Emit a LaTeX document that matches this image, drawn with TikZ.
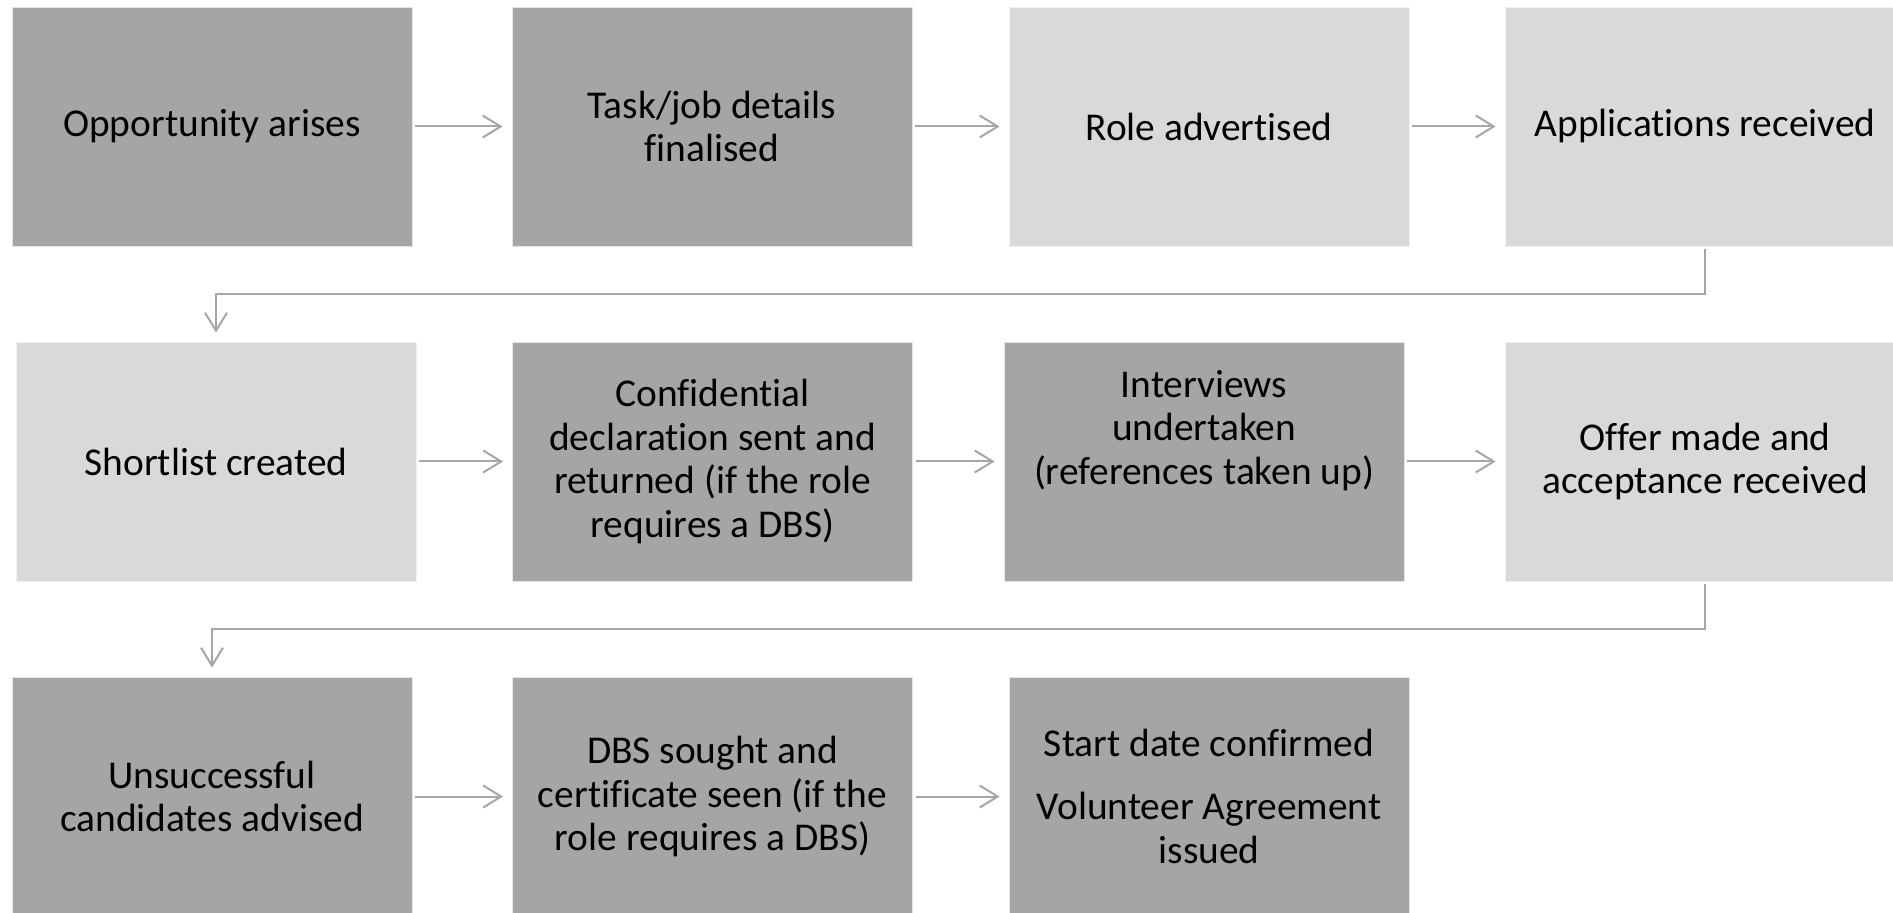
\documentclass[tikz,border=0pt]{standalone}
\usepackage{fontspec}
\setmainfont{Carlito}[Ligatures={NoCommon},RawFeature={-clig,-dlig,-calt}]
\usetikzlibrary{arrows.meta}
\newcommand{\zk}{\kern0pt{}}
\definecolor{darkbox}{HTML}{A5A5A5}
\definecolor{lightbox}{HTML}{D9D9D9}
\definecolor{conn}{HTML}{A6A6A6}
\tikzset{
  box/.style={rectangle, minimum width=200pt, minimum height=119.5pt, inner sep=0pt,
    draw=white!70!darkbox, line width=0.4pt, align=center, text=black,
    font=\fontsize{19.7}{21.9}\selectfont},
  darkb/.style={box, fill=darkbox},
  lightb/.style={box, fill=lightbox, draw=white!60!lightbox},
  txt/.style={align=center, inner sep=0pt, font=\fontsize{19.7}{21.9}\selectfont},
  conn/.style={draw=conn, line width=1pt, -{Straight Barb[length=9pt,width=11pt]},
    shorten <=1.5pt, shorten >=4.5pt},
}
\begin{document}
\begin{tikzpicture}[x=0.5pt,y=-0.5pt]
\useasboundingbox (0,0) rectangle (1893,913);
% row 1
\node[darkb] (b1) at (212,126.5) {Opportunity arises};
\node[darkb] (b2) at (712,126.5) {Task/job details\\f\zk inalised};
\node[lightb] (b3) at (1209,126.5) {Role advert\zk ised};
\node[lightb] (b4) at (1705,126.5) {Applicat\zk ions received};
% row 2
\node[lightb] (b5) at (216,461.5) {Shortlist created};
\node[darkb] (b6) at (712.5,461.5) {Conf\zk ident\zk ial\\declarat\zk ion sent and\\returned (if the role\\requires a DBS)};
\node[darkb] (b7) at (1204,461.5) {};
\node[txt] (t7) at ([yshift=15.5pt]b7.center) {Interviews\\undertaken\\(references taken up)};
\node[lightb] (b8) at (1705,461.5) {Of\zk fer made and\\acceptance received};
% row 3
\node[darkb] (b9) at (212,796.5) {Unsuccessful\\candidates advised};
\node[darkb] (b10) at (712.5,796.5) {DBS sought and\\cert\zk if\zk icate seen (if the\\role requires a DBS)};
\node[darkb] (b11) at (1209,796.5) {Start date conf\zk irmed\\[9.5pt]Volunteer Agreement\\issued};
% connectors
\draw[conn] (b1) -- (b2);
\draw[conn] (b2) -- (b3);
\draw[conn] (b3) -- (b4);
\draw[conn] (b4.south) -- ++(0,48) -| (b5.north);
\draw[conn] (b5) -- (b6);
\draw[conn] (b6) -- (b7);
\draw[conn] (b7) -- (b8);
\draw[conn] (b8.south) -- ++(0,48) -| (b9.north);
\draw[conn] (b9) -- (b10);
\draw[conn] (b10) -- (b11);
\end{tikzpicture}
\end{document}
